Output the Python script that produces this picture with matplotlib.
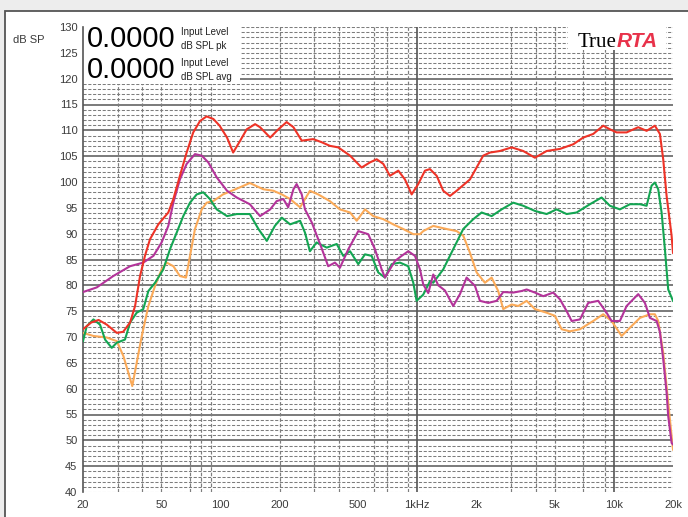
import numpy as np
import matplotlib.pyplot as plt
from matplotlib.patches import Rectangle

plt.rcParams['font.family'] = ['Liberation Sans', 'DejaVu Sans']

# frequency response traces (Hz, dB SPL)
red_f = [20, 22, 24, 26.4, 29.7, 32, 34.7, 36.8, 39, 41.3, 43.8, 48.3, 54.3, 57.6, 62.2, 67.3,
         72.7, 78.7, 85, 92, 99, 108, 116, 126, 136, 150, 159, 179, 197, 217, 235, 259, 296,
         327, 360, 397, 456, 522, 576, 623, 673, 727, 802, 867, 938, 1013, 1096, 1162, 1257,
         1358, 1469, 1588, 1856, 2168, 2346, 2636, 3025, 3463, 3972, 4555, 5322, 6218, 6990,
         7858, 8834, 9554, 10333, 11618, 13310, 14686, 16182, 17156, 17834, 18558, 19676, 20000]
red_db = [71.5, 72.8, 73.3, 72.4, 70.8, 71.0, 72.8, 76.0, 81.8, 85.7, 88.9, 91.8, 94.1, 96.7, 101.2, 105.7,
          109.6, 111.8, 112.7, 112.2, 110.9, 108.6, 105.7, 108.0, 110.2, 111.2, 110.6, 108.6, 110.2, 111.6, 110.6, 108.0, 108.3,
          107.7, 107.0, 106.7, 105.1, 102.8, 103.8, 104.4, 103.5, 101.2, 102.2, 100.5, 97.6, 99.6, 102.2, 102.5, 101.2,
          98.3, 97.3, 98.3, 100.5, 105.1, 105.7, 106.0, 106.7, 106.0, 104.7, 106.0, 106.4, 107.3, 108.6,
          109.3, 110.9, 110.2, 109.6, 109.6, 110.6, 109.9, 110.9, 109.3, 104.4, 97.3, 89.6, 86.3]

mag_f = [20, 23.5, 28.5, 34.7, 40.5, 45.6, 50.2, 54.3, 57.6, 62.2, 67.3, 74.2, 80.3, 86.7, 95.7,
         108, 121, 141, 159, 179, 193, 209, 221, 235, 244, 259, 269, 291, 321, 353, 382, 405,
         447, 502, 564, 610, 660, 686, 727, 771, 834, 901, 975, 1034, 1074, 1139, 1208, 1281,
         1385, 1526, 1651, 1785, 1968, 2086, 2300, 2536, 2740, 3081, 3399, 3604, 3972, 4378,
         4920, 5322, 5758, 6104, 6725, 7412, 8332, 9192, 9746, 10740, 11618, 13310, 14394,
         15264, 16506, 17156, 17834, 18558, 18908, 19676, 20000]
mag_db = [78.7, 79.6, 81.8, 83.7, 84.4, 85.7, 88.3, 91.5, 96.0, 100.5, 103.5, 105.4, 105.1, 103.8, 100.9,
          98.3, 97.0, 95.7, 93.4, 94.7, 96.3, 96.7, 95.1, 98.6, 99.6, 97.6, 94.7, 92.2, 88.0, 83.7, 84.4, 83.4,
          87.0, 90.5, 89.9, 87.0, 83.1, 81.5, 83.1, 84.7, 85.7, 86.6, 85.7, 83.1, 80.2, 78.5, 82.1, 80.0,
          79.0, 76.0, 78.3, 81.5, 79.9, 77.0, 76.6, 77.0, 78.7, 78.6, 78.9, 79.2, 78.6, 77.9,
          78.6, 77.3, 75.0, 73.1, 73.4, 76.6, 77.0, 74.7, 73.1, 73.1, 76.0, 78.3, 76.6,
          73.7, 73.1, 71.0, 65.7, 59.2, 54.7, 49.5, 49.2]

grn_f = [20, 20.9, 22.6, 24.4, 25.9, 28, 29.7, 32.7, 34.7, 37.5, 40.5, 43, 46.5, 51.2, 55.4, 59.9,
         64.7, 70, 75.7, 81.8, 88.4, 95.7, 108, 121, 141, 156, 172, 189, 205, 226, 254, 269, 285,
         308, 347, 390, 421, 456, 502, 543, 587, 634, 686, 742, 818, 901, 956, 994, 1074, 1162,
         1208, 1358, 1526, 1716, 1929, 2128, 2392, 2689, 3081, 3463, 3972, 4555, 5120, 5758,
         6471, 7561, 8670, 9554, 10740, 12078, 13576, 14686, 15568, 16182, 16820, 17500, 18190,
         18908, 20000]
grn_db = [69.2, 72.1, 73.4, 72.4, 69.5, 67.9, 68.9, 69.5, 72.8, 74.7, 75.4, 78.9, 80.5, 83.1, 87.0, 90.2,
          93.4, 96.0, 97.6, 98.0, 96.7, 94.7, 93.4, 93.8, 93.8, 90.9, 88.6, 91.5, 93.1, 91.8, 92.5, 90.2, 86.6,
          88.3, 87.3, 88.0, 85.7, 86.6, 84.1, 86.0, 85.7, 82.5, 81.5, 84.1, 84.4, 83.7, 80.5, 77.0, 78.2, 80.8,
          80.5, 83.1, 87.0, 90.9, 92.8, 94.1, 93.4, 94.7, 96.0, 95.4, 94.4, 93.8, 94.7, 93.8,
          94.1, 95.7, 97.0, 95.4, 94.7, 95.7, 95.7, 95.4, 99.3, 99.9, 98.6, 94.1, 87.0,
          79.2, 77.0]

org_f = [20, 22.6, 26.4, 29.7, 32.1, 34, 35.6, 37.5, 39.8, 43, 46.5, 50.2, 53.3, 57.6, 62.2, 66.8,
         70, 74.2, 80.3, 85.1, 91.9, 103, 121, 141, 165, 186, 205, 226, 254, 285, 314, 360, 405,
         456, 493, 543, 598, 673, 756, 850, 956, 1034, 1074, 1208, 1413, 1588, 1716, 1856, 2007,
         2211, 2392, 2584, 2740, 3025, 3266, 3604, 3972, 4555, 5018, 5430, 5984, 6725, 7858,
         8834, 9746, 10958, 12078, 13576, 15264, 16182, 16820, 17834, 18908, 20000]
org_db = [70.8, 70.2, 69.9, 69.2, 66.3, 63.1, 60.5, 65.0, 70.2, 76.0, 79.9, 83.1, 84.4, 83.7, 81.8, 81.5,
          85.7, 90.9, 94.7, 96.0, 96.3, 97.6, 98.7, 99.8, 98.6, 98.3, 97.6, 96.7, 95.1, 98.3, 97.6, 96.3, 94.7,
          94.1, 92.5, 94.7, 93.4, 92.8, 91.8, 90.9, 89.9, 89.9, 90.5, 91.5, 90.9, 90.5, 89.6, 86.3, 82.5,
          80.5, 81.5, 78.9, 75.4, 76.3, 76.0, 77.0, 75.4, 74.7, 74.1, 71.5, 71.1, 71.5, 73.1,
          74.4, 73.1, 70.2, 71.8, 73.7, 74.4, 74.4, 73.1, 67.0, 57.3, 48.2]

xticks = [20, 50, 100, 200, 500, 1000, 2000, 5000, 10000, 20000]
xtick_labels = ['20', '50', '100', '200', '500', '1kHz', '2k', '5k', '10k', '20k']
yticks = list(range(40, 131, 5))
x_grid_dashed = [30, 40, 50, 70, 80, 90, 200, 300, 400, 600, 700, 900, 3000, 4000, 5000, 7000, 9000]
x_grid_solid = [1000, 10000]
y_grid_solid = [45, 50, 55, 75, 80, 85, 105, 110, 115, 120]

W, H = 688, 517
fig = plt.figure(figsize=(W / 100, H / 100), dpi=100)
fig.patch.set_facecolor('#ededed')
# white panel with dark frame
fig.patches.append(Rectangle((5 / W, -0.05), 1.2, 1 - 11 / H + 0.05, transform=fig.transFigure,
                             facecolor='white', edgecolor='#555555', lw=1.3, zorder=-10))

ax = fig.add_axes([83 / W, 25 / H, 590 / W, 465 / H])
ax.set_xscale('log')
ax.set_xlim(20, 20000)
ax.set_ylim(40, 130)
ax.set_facecolor('white')

dash = (0, (3, 1.6))
for v in range(40, 131):
    if v in y_grid_solid:
        ax.axhline(v, color='#6f6f6f', lw=1.3, zorder=1)
    else:
        ax.axhline(v, color='#7d7d7d', lw=0.75, ls=dash, zorder=1)
for f in x_grid_dashed:
    ax.axvline(f, color='#7d7d7d', lw=0.85, ls=dash, zorder=1)
for f in x_grid_solid:
    ax.axvline(f, color='#555555', lw=1.2, zorder=1)

# readout box and logo cover the grid
ax.add_patch(Rectangle((0, 1 - (84 - 27) / 465), (240 - 83) / 590, 1,
                       transform=ax.transAxes, facecolor='white', edgecolor='none', zorder=2))
ax.add_patch(Rectangle(((568 - 83) / 590, 1 - (50 - 27) / 465), (666 - 568) / 590, 1,
                       transform=ax.transAxes, facecolor='white', edgecolor='none', zorder=2))

ax.plot(org_f, org_db, color='#fbaa58', lw=1.5, zorder=3)
ax.plot(grn_f, grn_db, color='#13a552', lw=1.5, zorder=4)
ax.plot(mag_f, mag_db, color='#b3339a', lw=1.5, zorder=5)
ax.plot(red_f, red_db, color='#ee3327', lw=1.5, zorder=6)

for s in ['top', 'right', 'bottom']:
    ax.spines[s].set_visible(False)
ax.spines['left'].set_color('#555555')
ax.spines['left'].set_linewidth(1.2)

ax.set_xticks(xticks)
ax.set_xticklabels(xtick_labels)
ax.xaxis.set_minor_locator(plt.NullLocator())
ax.set_yticks(yticks)
ax.tick_params(axis='both', length=0, labelsize=8, colors='#3a3a3a')
ax.tick_params(axis='x', pad=6)
ax.tick_params(axis='y', pad=4)

fig.text(13 / W, 1 - 40 / H, 'dB SP', fontsize=8, color='#3a3a3a', va='center', ha='left')

for yc, sub in [(39, 'dB SPL pk'), (70, 'dB SPL avg')]:
    fig.text(87 / W, 1 - yc / H, '0.0000', fontsize=21, color='black', va='center', ha='left', zorder=5)
    fig.text(181 / W, 1 - (yc - 7) / H, 'Input Level', fontsize=7, color='#222222', va='center', ha='left', zorder=5)
    fig.text(181 / W, 1 - (yc + 7) / H, sub, fontsize=7, color='#222222', va='center', ha='left', zorder=5)

fig.text(616 / W, 1 - 47 / H, 'True', fontsize=15, family=['Liberation Serif'], color='black',
         ha='right', va='baseline', zorder=5)
fig.text(617 / W, 1 - 47 / H, 'RTA', fontsize=15, fontweight='bold', style='italic',
         color='#e8324a', ha='left', va='baseline', zorder=5)

fig.savefig('out.png', dpi=100)
